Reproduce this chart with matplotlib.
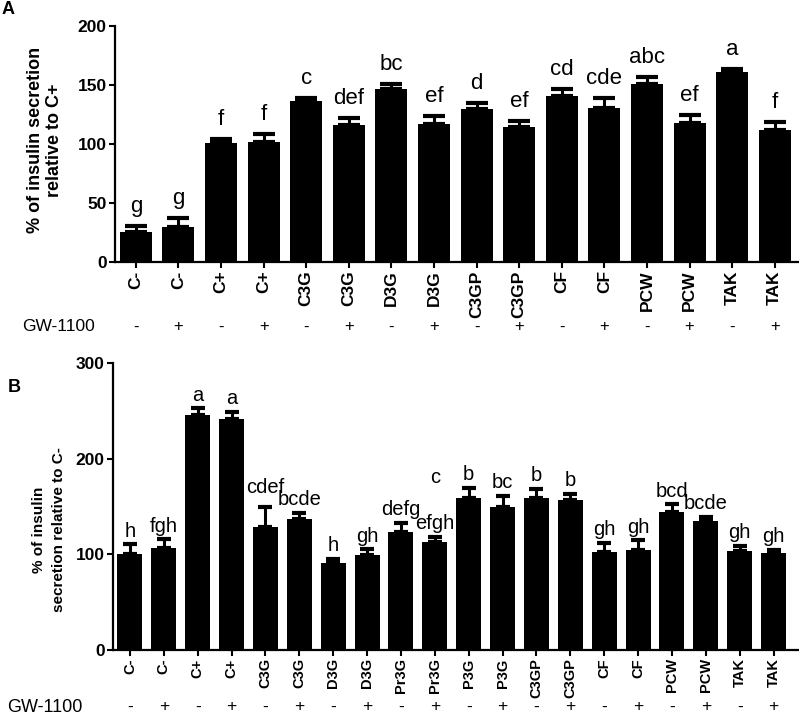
import matplotlib
matplotlib.use("Agg")
import matplotlib.pyplot as plt
import matplotlib.transforms as mtransforms

plt.rcParams['font.family'] = ['Liberation Sans', 'DejaVu Sans']

# panel A data
labels_a = ['C-', 'C-', 'C+', 'C+', 'C3G', 'C3G', 'D3G', 'D3G', 'C3GP', 'C3GP',
            'CF', 'CF', 'PCW', 'PCW', 'TAK', 'TAK']
mean_a = [25.4, 29.7, 100.6, 101.7, 136.7, 115.8, 146.9, 117.0, 130.0, 114.0,
          140.7, 130.5, 150.6, 117.5, 161.0, 111.9]
err_a = [5.0, 8.0, 3.5, 7.0, 2.0, 6.0, 4.0, 6.5, 4.5, 5.8, 6.3, 8.2, 6.2, 6.8, 2.8, 6.7]
letters_a = ['g', 'g', 'f', 'f', 'c', 'def', 'bc', 'ef', 'd', 'ef', 'cd', 'cde',
             'abc', 'ef', 'a', 'f']
gw_a = ['-', '+'] * 8

# panel B data
labels_b = ['C-', 'C-', 'C+', 'C+', 'C3G', 'C3G', 'D3G', 'D3G', 'Pr3G', 'Pr3G',
            'P3G', 'P3G', 'C3GP', 'C3GP', 'CF', 'CF', 'PCW', 'PCW', 'TAK', 'TAK']
mean_b = [100.4, 106.7, 245.8, 241.3, 129.0, 136.7, 91.3, 99.0, 123.4, 113.3,
          158.7, 149.6, 158.7, 156.6, 102.9, 104.3, 144.0, 135.3, 103.6, 101.5]
err_b = [10.1, 9.1, 7.2, 8.0, 21.0, 6.9, 3.9, 6.3, 9.6, 5.2,
         11.1, 11.4, 9.7, 6.6, 9.1, 10.4, 8.4, 3.8, 5.5, 3.1]
letters_b = ['h', 'fgh', 'a', 'a', 'cdef', 'bcde', 'h', 'gh', 'defg', 'efgh',
             'b', 'bc', 'b', 'b', 'gh', 'gh', 'bcd', 'bcde', 'gh', 'gh']
gw_b = ['-', '+'] * 10
# stray "c" label floating above Pr3G (+)
extra_b = (9, 174.7, 'c')

fig = plt.figure(figsize=(7.99, 7.14), dpi=100)
ax_a = fig.add_axes([115/799, 1-262/714, 1-115/799, (262-26)/714])
ax_b = fig.add_axes([113/799, 1-650/714, 1-113/799, (650-363.3)/714])


def draw(ax, labels, mean, err, letters, gw, width, cap, let_size, let_off,
         tick_size, gw_y, gw_size, xlim, ylim, yticks, bump=None):
    bump = bump or {}
    x = list(range(len(labels)))
    ax.bar(x, mean, width=width, color='black', zorder=2)
    ax.errorbar(x, mean, yerr=[[0]*len(err), err], fmt='none', ecolor='black',
                elinewidth=2.2, capsize=cap, capthick=3, zorder=1)
    for i in x:
        ax.annotate(letters[i], (i, mean[i] + err[i]),
                    xytext=(0, let_off + bump.get(i, 0)),
                    textcoords='offset points', ha='center', va='baseline',
                    fontsize=let_size)
    ax.set_xlim(*xlim)
    ax.set_ylim(*ylim)
    ax.set_yticks(yticks)
    ax.set_xticks(x)
    ax.set_xticklabels(labels, rotation=90, fontsize=tick_size, fontweight='bold')
    for t in ax.get_yticklabels():
        t.set_fontweight('bold')
        t.set_fontsize(12.5)
    for s in ['top', 'right']:
        ax.spines[s].set_visible(False)
    for s in ['left', 'bottom']:
        ax.spines[s].set_linewidth(1.6)
    ax.tick_params(direction='out', length=4, width=1.5, pad=2)
    trans = mtransforms.blended_transform_factory(ax.transData, fig.transFigure)
    for i in x:
        ax.text(i, gw_y, gw[i], transform=trans, ha='center', va='center',
                fontsize=gw_size)


draw(ax_a, labels_a, mean_a, err_a, letters_a, gw_a, 0.75, 8, 16, 10,
     12.5, 1-327/714, 12, (-0.49, 15.57), (0, 200), [0, 50, 100, 150, 200])
draw(ax_b, labels_b, mean_b, err_b, letters_b, gw_b, 0.74, 5, 14.5, 5.5,
     10.5, 1-707/714, 12.5, (-0.5, 19.75), (0, 300), [0, 100, 200, 300],
     bump={4: 4.5})
ax_b.text(extra_b[0], extra_b[1], extra_b[2], ha='center', va='baseline', fontsize=14.5)

fig.text(22/799, 1-327/714, 'GW-1100', ha='left', va='center', fontsize=12.5)
fig.text(7/799, 1-707/714, 'GW-1100', ha='left', va='center', fontsize=13)

fig.text(45/799, 1-140/714, '% of insulin secretion\nrelative to C+', rotation=90,
         ha='center', va='center', fontsize=13, fontweight='bold', linespacing=1.2)
fig.text(49/799, 1-530/714, '% of insulin\nsecretion relative to C-', rotation=90,
         ha='center', va='center', fontsize=11, fontweight='bold', linespacing=1.6)

fig.text(2/799, 1-9/714, 'A', ha='left', va='center', fontsize=13, fontweight='bold')
fig.text(8/799, 1-387/714, 'B', ha='left', va='center', fontsize=13, fontweight='bold')

fig.savefig('out.png', dpi=100)
